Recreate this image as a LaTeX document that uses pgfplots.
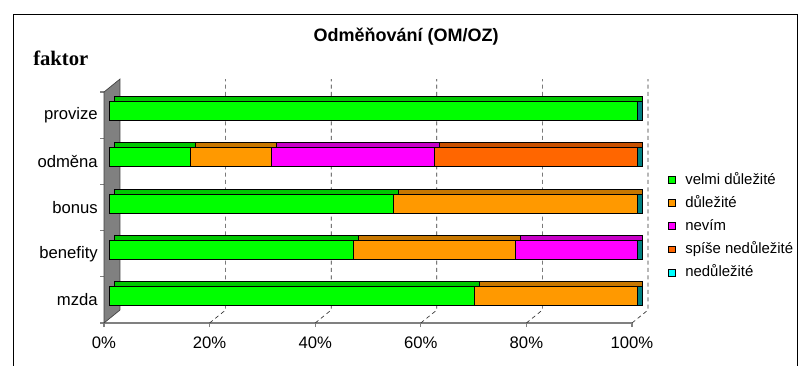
\documentclass[border=0pt]{standalone}
\usepackage{fontspec}
\setmainfont{Liberation Sans}
\newfontfamily\seriffont{Liberation Serif}
\usepackage{pgfplots}
\pgfplotsset{compat=1.18}
\usepackage{pgfplotstable}

\definecolor{cGreen}{RGB}{0,255,0}
\definecolor{cOrange}{RGB}{255,153,0}
\definecolor{cMag}{RGB}{255,0,255}
\definecolor{cRed}{RGB}{255,102,0}
\definecolor{cCyan}{RGB}{0,255,255}

% percentages per category (pos 0 = mzda ... 4 = provize)
% a = velmi dulezite, b = dulezite, c = nevim, d = spise nedulezite, e = nedulezite
\pgfplotstableread{
pos a b c d e
0 69.2 30.8 0 0 0
1 46.2 30.7 23.1 0 0
2 53.8 46.2 0 0 0
3 15.4 15.4 30.8 38.4 0
4 100 0 0 0 0
}\data

\begin{document}
\begin{tikzpicture}
\useasboundingbox (0,0) rectangle (601.5pt,273.75pt);
% chart frame
\draw[black, line width=0.7pt] (9.75pt,-2pt) -- (9.75pt,263.25pt) -- (597.75pt,263.25pt) -- (597.75pt,-2pt);
\node[font=\bfseries\fontsize{13.5}{16}\selectfont] at (304.5pt,246pt) {Odměňování (OM/OZ)};
\node[anchor=west, inner sep=0pt, font=\seriffont\bfseries\fontsize{15.5}{18}\selectfont] at (24.75pt,230.25pt) {faktor};

\begin{axis}[
  at={(78pt,31.5pt)}, anchor=south west,
  scale only axis, width=396pt, height=173.25pt,
  xmin=0, xmax=100, ymin=-0.5, ymax=4.5,
  enlargelimits=false, clip=false,
  xbar, bar width=14.25pt,
  every axis plot/.append style={bar shift=0pt, draw=black, line width=0.5pt},
  axis x line*=bottom, axis y line*=left,
  x axis line style={draw=gray, line width=0.8pt, -},
  y axis line style={draw=black!70, -},
  tick align=outside, major tick length=3pt,
  xtick={0,20,...,100},
  xticklabel={\pgfmathprintnumber{\tick}\%},
  xtick style={draw=gray, line width=0.8pt},
  ytick={0,...,4},
  yticklabels={mzda,benefity,bonus,odměna,provize},
  ytick style={draw=none},
  extra y ticks={-0.5,0.5,1.5,2.5,3.5,4.5},
  extra y tick labels={},
  extra y tick style={ytick style={draw=gray, line width=0.8pt}},
  /pgf/number format/assume math mode=true,
  ticklabel style={font=\fontsize{12.5}{14}\selectfont},
  xticklabel style={anchor=north, inner sep=0pt, yshift=-7pt},
  yticklabel style={anchor=east, inner sep=0pt, xshift=-1.5pt},
  legend style={at={(rel axis cs:1.068,0.654)}, anchor=north west, draw=none, fill=none,
    font=\fontsize{11.2}{13}\selectfont, row sep=5.3pt, column sep=7pt, inner sep=0pt,
    nodes={inner sep=0pt, text height=9pt, text depth=3pt, anchor=west}},
  legend cell align=left,
  legend image code/.code={\draw[#1, draw=black, line width=0.6pt] (0pt,-2.6pt) rectangle (5.25pt,2.6pt);},
]
% back gridlines (dashed) with floor lines
\draw[black!80, dash pattern=on 3pt off 2.5pt, line width=0.5pt] (axis cs:20,-0.5) -- (axis cs:23.03,-0.219) -- (axis cs:23.03,4.781);
\draw[black!80, dash pattern=on 3pt off 2.5pt, line width=0.5pt] (axis cs:40,-0.5) -- (axis cs:43.03,-0.219) -- (axis cs:43.03,4.781);
\draw[black!80, dash pattern=on 3pt off 2.5pt, line width=0.5pt] (axis cs:60,-0.5) -- (axis cs:63.03,-0.219) -- (axis cs:63.03,4.781);
\draw[black!80, dash pattern=on 3pt off 2.5pt, line width=0.5pt] (axis cs:80,-0.5) -- (axis cs:83.03,-0.219) -- (axis cs:83.03,4.781);
\draw[black!80, dash pattern=on 3pt off 2.5pt, line width=0.5pt] (axis cs:100,-0.5) -- (axis cs:103.03,-0.219) -- (axis cs:103.03,4.781);
% left wall
\filldraw[fill=gray, draw=black!75, line width=0.5pt] (axis cs:0,-0.5) -- (axis cs:3.03,-0.219) -- (axis cs:3.03,4.781) -- (axis cs:0,4.5) -- cycle;

% top faces (darker, set back in depth)
\addplot[forget plot, fill=cRed!78!black, xshift=7.5pt, yshift=6.75pt] table[x expr=\thisrow{a}+\thisrow{b}+\thisrow{c}+\thisrow{d}, y=pos] {\data};
\addplot[forget plot, fill=cMag!78!black, xshift=7.5pt, yshift=6.75pt] table[x expr=\thisrow{a}+\thisrow{b}+\thisrow{c}, y=pos] {\data};
\addplot[forget plot, fill=cOrange!78!black, xshift=7.5pt, yshift=6.75pt] table[x expr=\thisrow{a}+\thisrow{b}, y=pos] {\data};
\addplot[forget plot, fill=cGreen!78!black, xshift=7.5pt, yshift=6.75pt] table[x=a, y=pos] {\data};
% right end faces (dark cyan)
\addplot[forget plot, fill=cCyan!50!black, xshift=7.5pt, yshift=3pt] table[x expr=\thisrow{a}+\thisrow{b}+\thisrow{c}+\thisrow{d}+\thisrow{e}, y=pos] {\data};
% front faces
\addplot[forget plot, fill=cCyan, xshift=3.75pt, yshift=3pt] table[x expr=\thisrow{a}+\thisrow{b}+\thisrow{c}+\thisrow{d}+\thisrow{e}, y=pos] {\data};
\addplot[forget plot, fill=cRed, xshift=3.75pt, yshift=3pt] table[x expr=\thisrow{a}+\thisrow{b}+\thisrow{c}+\thisrow{d}, y=pos] {\data};
\addplot[forget plot, fill=cMag, xshift=3.75pt, yshift=3pt] table[x expr=\thisrow{a}+\thisrow{b}+\thisrow{c}, y=pos] {\data};
\addplot[forget plot, fill=cOrange, xshift=3.75pt, yshift=3pt] table[x expr=\thisrow{a}+\thisrow{b}, y=pos] {\data};
\addplot[forget plot, fill=cGreen, xshift=3.75pt, yshift=3pt] table[x=a, y=pos] {\data};

\addlegendimage{fill=cGreen}\addlegendentry{velmi důležité}
\addlegendimage{fill=cOrange}\addlegendentry{důležité}
\addlegendimage{fill=cMag}\addlegendentry{nevím}
\addlegendimage{fill=cRed}\addlegendentry{spíše nedůležité}
\addlegendimage{fill=cCyan}\addlegendentry{nedůležité}
\end{axis}
\end{tikzpicture}
\end{document}
